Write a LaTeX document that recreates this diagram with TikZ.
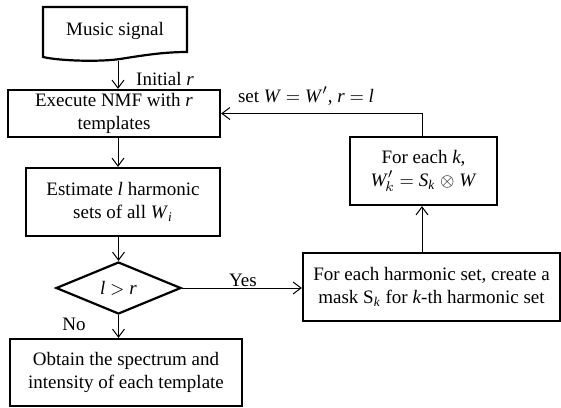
\documentclass[tikz,border=0pt]{standalone}
\usepackage{fontspec}
\setmainfont{Liberation Serif}
\usetikzlibrary{shapes.geometric,arrows.meta}
\newcommand{\ftx}{\fontsize{9.5}{11.5}\selectfont}
\begin{document}
\begin{tikzpicture}[x=0.5pt,y=-0.5pt,
  box/.style={draw,line width=1.1pt,align=center,inner sep=0pt,font=\ftx},
  dec/.style={draw,diamond,line width=1.1pt,inner sep=0pt,font=\ftx},
  conn/.style={line width=0.5pt,-{Straight Barb[length=4pt,width=6pt]}},
  lbl/.style={inner sep=0pt,font=\ftx}]
\useasboundingbox (0,0) rectangle (561,407);
% music signal (document shape)
\draw[line width=1.1pt] (43,7) -- (187,7) -- (187,52)
  .. controls (165,52) and (145,55) .. (120,59)
  .. controls (100,62) and (60,61) .. (43,57) -- cycle;
\node[lbl] (music) at (115,31) {Music signal};
\coordinate (mbot) at (118,60.5);
\coordinate (colx) at (422,0);
% boxes
\node[box,minimum width=106pt,minimum height=23.5pt] (exec) at (114,113.5)
  {Execute NMF with \textit{r}\\templates};
\node[box,minimum width=97pt,minimum height=34pt] (est) at (123,202)
  {Estimate \textit{l} harmonic\\sets of all \textit{W}\textsubscript{\textit{i}}};
\node[dec,minimum width=62.5pt,minimum height=26pt] (dec) at (118.5,288)
  {\textit{l} $>$ \textit{r}};
\node[box,minimum width=116pt,minimum height=33.5pt] (obtain) at (126,372.5)
  {Obtain the spectrum and\\intensity of each template};
\node[box,minimum width=128.5pt,minimum height=34pt] (mask) at (431.5,287)
  {For each harmonic set, create a\\mask S\textsubscript{\textit{k}} for \textit{k}-th harmonic set};
\node[box,minimum width=73.5pt,minimum height=34pt] (foreach) at (423.5,171)
  {For each \textit{k},\\\textit{W}$'_{\!k}$ $=$ \textit{S}\textsubscript{\textit{k}} $\otimes$ \textit{W}};
% connectors
\draw[conn] (mbot) -- (exec.north -| mbot);
\draw[conn] (exec.south -| mbot) -- (est.north -| mbot);
\draw[conn] (est.south -| dec.north) -- (dec.north);
\draw[conn] (dec.south) -- (obtain.north -| dec.south);
\draw[conn] (dec.east) -- (mask.west |- dec.east);
\draw[conn] (mask.north -| colx) -- (foreach.south -| colx);
\draw[conn] (foreach.north -| colx) |- (exec.east);
% labels
\node[lbl] (linit) at (165,79) {Initial \textit{r}};
\node[lbl] (lno) at (74,324) {No};
\node[lbl] (lyes) at (243,280) {Yes};
\node[lbl] (lset) at (306,96) {set \textit{W} $=$ \textit{W}$'$, \textit{r} $=$ \textit{l}};
\end{tikzpicture}
\end{document}
